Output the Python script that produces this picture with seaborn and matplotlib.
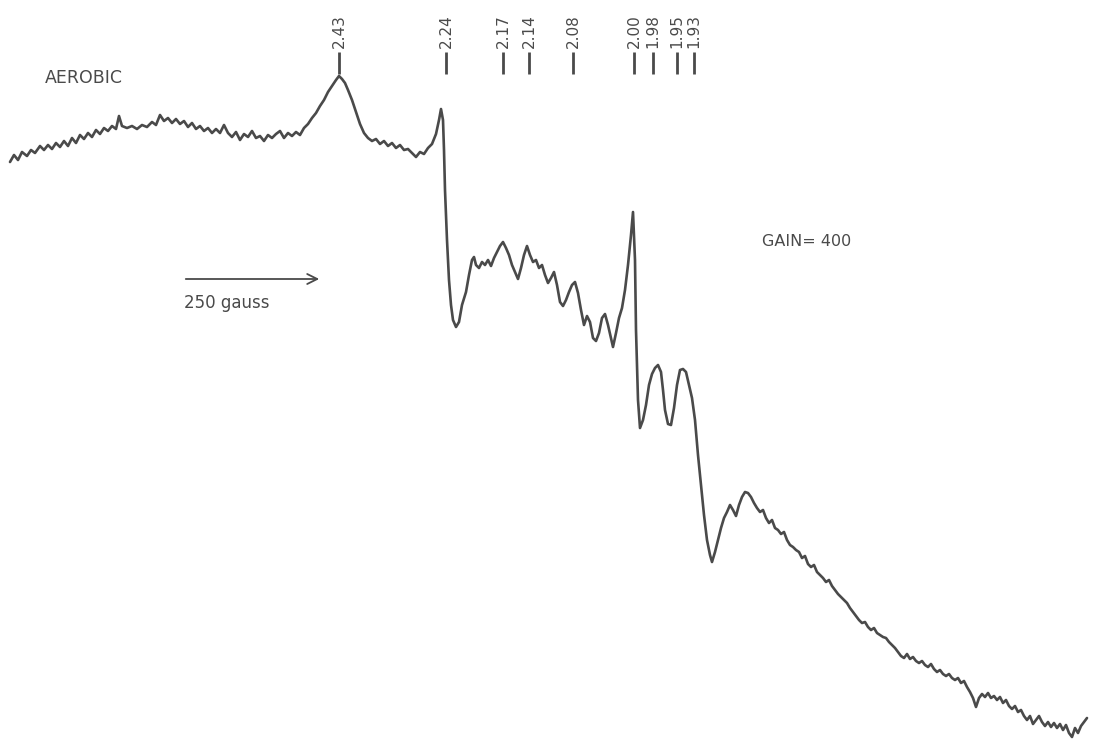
import numpy as np
import pandas as pd
import matplotlib
matplotlib.use("Agg")
import matplotlib.pyplot as plt
import seaborn as sns

# ---- data: EPR trace (field position, signal) ----
field = [10,14,18,22,27,31,35,40,44,48,52,56,60,64,68,72,76,80,84,88,92,96,100,104,108,112,116,119,122,127,
         132,137,142,147,152,156,160,164,168,172,176,180,184,188,192,196,200,204,208,212,216,220,224,228,
         232,236,240,244,248,252,256,260,264,268,272,276,280,284,288,292,296,300,304,308,312,316,320,324,328,
         332,336,339,342,345,348,352,356,360,364,368,372,376,380,384,388,392,396,400,404,408,412,416,420,424,
         428,432,436,439,441,443,444,445,447,449,451,453,456,459,462,466,469,472,474,476,479,482,485,488,491,
         494,497,500,503,506,509,512,515,518,521,524,527,530,533,536,539,542,545,548,551,554,557,560,563,566,
         569,572,575,578,581,584,587,590,593,596,599,602,605,608,611,613,616,619,622,625,628,631,633,635,636,
         638,640,643,646,649,652,655,658,661,663,665,668,671,674,677,680,683,686,689,692,695,698,701,704,707,
         710,712,715,718,721,724,727,730,733,736,739,742,745,748,751,754,757,760,763,766,769,772,775,778,781,
         784,787,790,793,796,799,802,805,808,811,814,817,820,823,826,829,832,835,838,841,844,847,850,853,856,
         859,862,865,868,871,874,877,880,883,886,889,892,895,898,901,904,907,910,913,916,919,922,925,928,931,
         934,937,940,943,946,949,952,955,958,961,964,967,970,973,976,979,982,985,988,991,994,997,1000,1003,
         1006,1009,1012,1015,1018,1021,1024,1027,1030,1033,1036,1039,1042,1045,1048,1051,1054,1057,1060,1063,
         1066,1069,1072,1075,1078,1081,1084,1087]
signal = [162,155,160,152,156,150,153,146,150,145,149,143,147,141,146,138,143,135,139,133,137,130,134,128,131,126,129,116,126,128,
          126,129,125,127,122,125,115,121,118,123,119,124,121,127,123,129,126,131,128,133,129,133,125,133,
          137,132,140,134,137,131,138,136,141,135,138,134,131,138,133,136,132,135,128,124,118,113,106,100,92,
          86,80,76,79,83,90,100,112,124,133,138,141,139,144,141,146,143,148,145,150,149,153,157,152,154,
          148,144,134,120,109,120,150,190,240,280,305,320,327,322,305,292,275,260,257,265,268,262,265,260,266,
          258,252,246,242,248,255,265,272,279,268,255,246,255,262,260,268,265,275,283,278,272,285,302,306,300,
          292,285,282,293,310,325,316,322,338,341,333,318,314,325,338,347,333,318,308,290,265,235,212,260,330,
          400,428,420,405,385,374,368,365,372,390,410,424,425,408,385,370,369,372,385,398,420,455,485,515,540,
          555,562,552,540,528,518,512,505,510,516,505,497,492,493,497,503,508,512,510,518,523,520,528,530,534,
          532,540,545,547,550,552,558,556,564,567,565,572,575,578,582,580,586,590,594,597,600,603,608,612,616,
          620,623,622,627,630,628,633,635,637,638,642,645,648,652,656,658,654,659,657,661,663,661,665,667,664,
          669,672,670,674,676,674,678,680,678,683,681,687,692,698,707,698,694,697,693,698,696,700,697,703,
          700,706,709,706,712,710,716,720,716,724,720,716,722,726,722,727,723,728,724,730,
          725,733,737,728,733,726,722,718]

# g-value markers
g_labels = ["2.43", "2.24", "2.17", "2.14", "2.08", "2.00", "1.98", "1.95", "1.93"]
g_pos = [339, 446, 503, 529, 573, 634, 653, 677, 694]

df = pd.DataFrame({"field": field, "signal": signal})

sns.set_theme(style="white")
plt.rcParams["font.family"] = ["DejaVu Sans"]

fig = plt.figure(figsize=(10.94, 7.51), dpi=100)
ax = fig.add_axes([0, 0, 1, 1])
ink = "#4a4a4a"

sns.lineplot(data=df, x="field", y="signal", sort=False, estimator=None,
             color=ink, lw=1.9, ax=ax)

ax.set_xlim(0, 1094)
ax.set_ylim(751, 0)
ax.axis("off")

# g-value labels with tick strokes
for lab, xp in zip(g_labels, g_pos):
    ax.text(xp, 48, lab, rotation=90, ha="center", va="bottom",
            fontsize=11, color=ink)
    ax.plot([xp, xp], [52, 74], color=ink, lw=2.0, solid_capstyle="butt")

ax.text(45, 78, "AEROBIC", fontsize=12.5, color=ink, ha="left", va="center")
ax.text(762, 241, "GAIN= 400", fontsize=11.5, color=ink, ha="left", va="center")
ax.annotate("", xy=(322, 279), xytext=(183, 279),
            arrowprops=dict(arrowstyle="->", color=ink, lw=1.3,
                            mutation_scale=18))
ax.text(184, 303, "250 gauss", fontsize=12, color=ink, ha="left", va="center")

fig.savefig("out.png", dpi=100, facecolor="white")
